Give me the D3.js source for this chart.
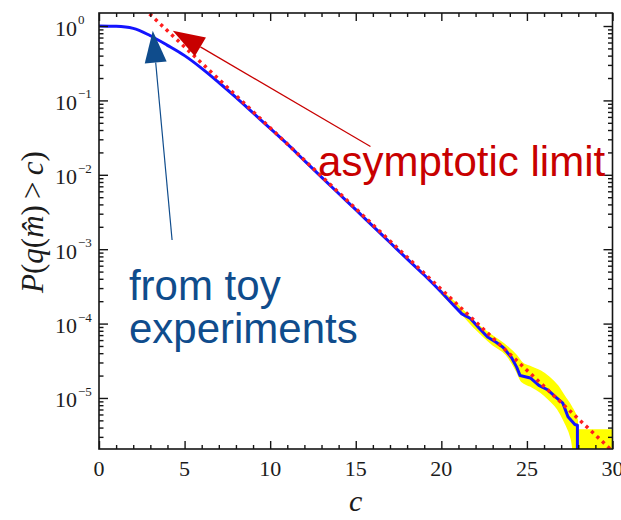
<!DOCTYPE html>
<html>
<head>
<meta charset="utf-8">
<script src="https://cdn.jsdelivr.net/npm/d3@7/dist/d3.min.js"></script>
<style>
  html, body { margin: 0; padding: 0; background: #fff; }
  svg { display: block; }
</style>
</head>
<body>
<script>
// Tail probability P(q(m̂) > c): toy-experiment estimate, its band, and the asymptotic limit.
const toyC = [0, 1, 2, 3, 4, 5, 6, 7, 8, 9, 10, 11, 12, 13, 14, 15, 16, 17, 18, 19, 20,
  20.7, 21.2, 21.7, 22.2, 22.7, 23.2, 23.6, 24.1, 24.4, 24.6, 25.2, 25.7, 26.2, 26.7,
  27.1, 27.4, 27.8, 27.95, 27.95];
const toyP = [1.0, 0.99, 0.93, 0.74, 0.55, 0.40, 0.27, 0.174, 0.110, 0.068, 0.042, 0.026,
  0.0155, 0.0093, 0.0056, 0.0034, 0.00204, 0.00123, 7.4e-4, 4.5e-4, 2.65e-4,
  1.78e-4, 1.35e-4, 1.17e-4, 8.7e-5, 6.6e-5, 5.6e-5, 4.8e-5, 3.5e-5, 2.6e-5, 2.0e-5,
  1.86e-5, 1.48e-5, 1.29e-5, 1.02e-5, 8.5e-6, 5.6e-6, 4.4e-6, 4.3e-6, 1e-6];

const bandC = [20, 21, 22, 23, 23.8, 24.4, 24.7, 25.2, 25.8, 26.3, 26.8, 27.2, 27.6,
  27.94, 27.95, 30];
const bandHi = [2.75e-4, 1.74e-4, 1.02e-4, 6.8e-5, 5.0e-5, 3.7e-5, 3.0e-5, 2.63e-5, 2.29e-5,
  1.9e-5, 1.45e-5, 1.05e-5, 7.6e-6, 5.0e-6, 3.7e-6, 3.7e-6];
const bandLo = [2.51e-4, 1.51e-4, 8.5e-5, 5.2e-5, 3.8e-5, 2.3e-5, 1.66e-5, 1.45e-5, 1.2e-5,
  9.5e-6, 7.1e-6, 4.8e-6, 2.8e-6, 1e-6, 1e-6, 1e-6];

const asymC = [2, 5, 10, 15, 20, 25, 30];
const asymP = [2.35, 0.523, 0.0428, 3.51e-3, 2.88e-4, 2.36e-5, 1.93e-6];

const xTicksMajor = [0, 5, 10, 15, 20, 25, 30];
const yDecades = [0, -1, -2, -3, -4, -5];

const W = 621, H = 520;
const plotLeft = 99, plotRight = 612.5, plotTop = 13, plotBottom = 449;

const svg = d3.select("body").append("svg").attr("width", W).attr("height", H);

const x = d3.scaleLinear().domain([0, 30]).range([plotLeft, plotRight]);
const y = d3.scaleLog().domain([Math.pow(10, -5.686), Math.pow(10, 0.175)]).range([plotBottom, plotTop]);

svg.append("clipPath").attr("id", "plotClip")
  .append("rect").attr("x", plotLeft).attr("y", plotTop)
  .attr("width", plotRight - plotLeft).attr("height", plotBottom - plotTop);

const plot = svg.append("g").attr("clip-path", "url(#plotClip)");

// uncertainty band
const band = bandC.map((c, i) => ({c, lo: bandLo[i], hi: bandHi[i]}));
plot.append("path")
  .datum(band)
  .attr("fill", "#ffff00")
  .attr("stroke", "#ffff00")
  .attr("stroke-width", 1.5)
  .attr("d", d3.area().x(d => x(d.c)).y0(d => y(d.lo)).y1(d => y(d.hi)).curve(d3.curveMonotoneX));

// toy experiment curve: smooth body, jagged tail
const toy = toyC.map((c, i) => ({c, p: toyP[i]}));
const toyBody = toy.filter(d => d.c <= 20);
const toyTail = toy.filter(d => d.c >= 20);
plot.append("path")
  .datum(toyBody)
  .attr("fill", "none")
  .attr("stroke", "#1414ff")
  .attr("stroke-width", 3)
  .attr("d", d3.line().x(d => x(d.c)).y(d => y(d.p)).curve(d3.curveMonotoneX));
plot.append("path")
  .datum(toyTail)
  .attr("fill", "none")
  .attr("stroke", "#1414ff")
  .attr("stroke-width", 3)
  .attr("stroke-linejoin", "round")
  .attr("d", d3.line().x(d => x(d.c)).y(d => y(d.p)));

// asymptotic limit
const asym = asymC.map((c, i) => ({c, p: asymP[i]}));
plot.append("path")
  .datum(asym)
  .attr("fill", "none")
  .attr("stroke", "#ff1e1e")
  .attr("stroke-width", 3.5)
  .attr("stroke-dasharray", "3.2 4.3")
  .attr("d", d3.line().x(d => x(d.c)).y(d => y(d.p)));

// frame
svg.append("rect")
  .attr("x", plotLeft).attr("y", plotTop)
  .attr("width", plotRight - plotLeft).attr("height", plotBottom - plotTop)
  .attr("fill", "none").attr("stroke", "#151515").attr("stroke-width", 1.6);

// ticks (pointing inward on all four sides)
const xMinor = d3.range(0, 31, 1).filter(v => v % 5 !== 0);
const yMinor = [];
for (let d = -6; d <= 0; d++) for (let k = 2; k <= 9; k++) {
  const v = k * Math.pow(10, d);
  if (v > y.domain()[0] && v < y.domain()[1]) yMinor.push(v);
}
const yMajor = yDecades.map(e => Math.pow(10, e));

function styleAxis(g) {
  g.select(".domain").remove();
  g.selectAll(".tick line").attr("stroke", "#151515").attr("stroke-width", 1.4);
  g.selectAll(".tick text").remove();
}

svg.append("g").attr("transform", `translate(0,${plotBottom})`)
  .call(d3.axisBottom(x).tickValues(xTicksMajor).tickSize(-8)).call(styleAxis);
svg.append("g").attr("transform", `translate(0,${plotBottom})`)
  .call(d3.axisBottom(x).tickValues(xMinor).tickSize(-4)).call(styleAxis);
svg.append("g").attr("transform", `translate(0,${plotTop})`)
  .call(d3.axisTop(x).tickValues(xTicksMajor).tickSize(-8)).call(styleAxis);
svg.append("g").attr("transform", `translate(0,${plotTop})`)
  .call(d3.axisTop(x).tickValues(xMinor).tickSize(-4)).call(styleAxis);

svg.append("g").attr("transform", `translate(${plotLeft},0)`)
  .call(d3.axisLeft(y).tickValues(yMajor).tickSize(-9)).call(styleAxis);
svg.append("g").attr("transform", `translate(${plotLeft},0)`)
  .call(d3.axisLeft(y).tickValues(yMinor).tickSize(-4.5)).call(styleAxis);
svg.append("g").attr("transform", `translate(${plotRight},0)`)
  .call(d3.axisRight(y).tickValues(yMajor).tickSize(-9)).call(styleAxis);
svg.append("g").attr("transform", `translate(${plotRight},0)`)
  .call(d3.axisRight(y).tickValues(yMinor).tickSize(-4.5)).call(styleAxis);

// tick labels
const serif = "'Liberation Serif', 'Times New Roman', serif";
svg.append("g").selectAll("text").data(xTicksMajor).join("text")
  .attr("x", d => x(d)).attr("y", 476)
  .attr("text-anchor", "middle")
  .attr("font-family", serif).attr("font-size", 22).attr("fill", "#1c1c1c")
  .text(d => d);

const yl = svg.append("g").selectAll("text").data(yDecades).join("text")
  .attr("x", 55).attr("y", d => y(Math.pow(10, d)) + 9.5)
  .attr("font-family", serif).attr("font-size", 22).attr("fill", "#1c1c1c");
yl.append("tspan").text("10");
yl.append("tspan").attr("dy", -11.5).attr("dx", 1).attr("font-size", 13)
  .text(d => d === 0 ? "0" : "\u2212" + Math.abs(d));

// axis titles
svg.append("text")
  .attr("x", (plotLeft + plotRight) / 2).attr("y", 511)
  .attr("text-anchor", "middle")
  .attr("font-family", serif).attr("font-style", "italic").attr("font-size", 30)
  .attr("fill", "#1c1c1c")
  .text("c");

const yt = svg.append("text")
  .attr("transform", "translate(43,222) rotate(-90)")
  .attr("text-anchor", "middle")
  .attr("font-family", serif).attr("font-size", 31).attr("fill", "#1c1c1c");
yt.append("tspan").attr("font-style", "italic").text("P");
yt.append("tspan").text("(");
yt.append("tspan").attr("font-style", "italic").text("q");
yt.append("tspan").text("(");
yt.append("tspan").attr("font-style", "italic").text("m\u0302");
yt.append("tspan").text(")\u2009>\u2009");
yt.append("tspan").attr("font-style", "italic").text("c");
yt.append("tspan").text(")");

// annotations
const sans = "'Liberation Sans', Arial, Helvetica, sans-serif";
const notes = [
  {id: "toy", color: "#0f4c8c", tip: [3.14, 0.865], tail: [4.27, 1.33e-3]},
  {id: "asym", color: "#c80000", tip: [4.31, 0.865], tail: [15.86, 0.024]}
];
notes.forEach(n => {
  const tx = x(n.tip[0]), ty = y(n.tip[1]);
  const sx = x(n.tail[0]), sy = y(n.tail[1]);
  const ang = Math.atan2(ty - sy, tx - sx);
  const len = 32, half = 11;
  const bx = tx - len * Math.cos(ang), by = ty - len * Math.sin(ang);
  svg.append("line")
    .attr("x1", sx).attr("y1", sy).attr("x2", bx).attr("y2", by)
    .attr("stroke", n.color).attr("stroke-width", 1.2);
  const px = -Math.sin(ang), py = Math.cos(ang);
  svg.append("polygon")
    .attr("points", [[tx, ty], [bx + half * px, by + half * py], [bx - half * px, by - half * py]]
      .map(p => p.join(",")).join(" "))
    .attr("fill", n.color);
});

svg.append("text")
  .attr("x", x(12.8)).attr("y", y(9.6e-3))
  .attr("font-family", sans).attr("font-size", 42).attr("fill", "#c80000")
  .text("asymptotic limit");

const toyLabel = svg.append("text")
  .attr("font-family", sans).attr("font-size", 42).attr("fill", "#0f4c8c");
toyLabel.append("tspan").attr("x", x(1.75)).attr("y", y(2.07e-4)).text("from toy");
toyLabel.append("tspan").attr("x", x(1.75)).attr("y", y(5.5e-5)).text("experiments");
</script>
</body>
</html>
